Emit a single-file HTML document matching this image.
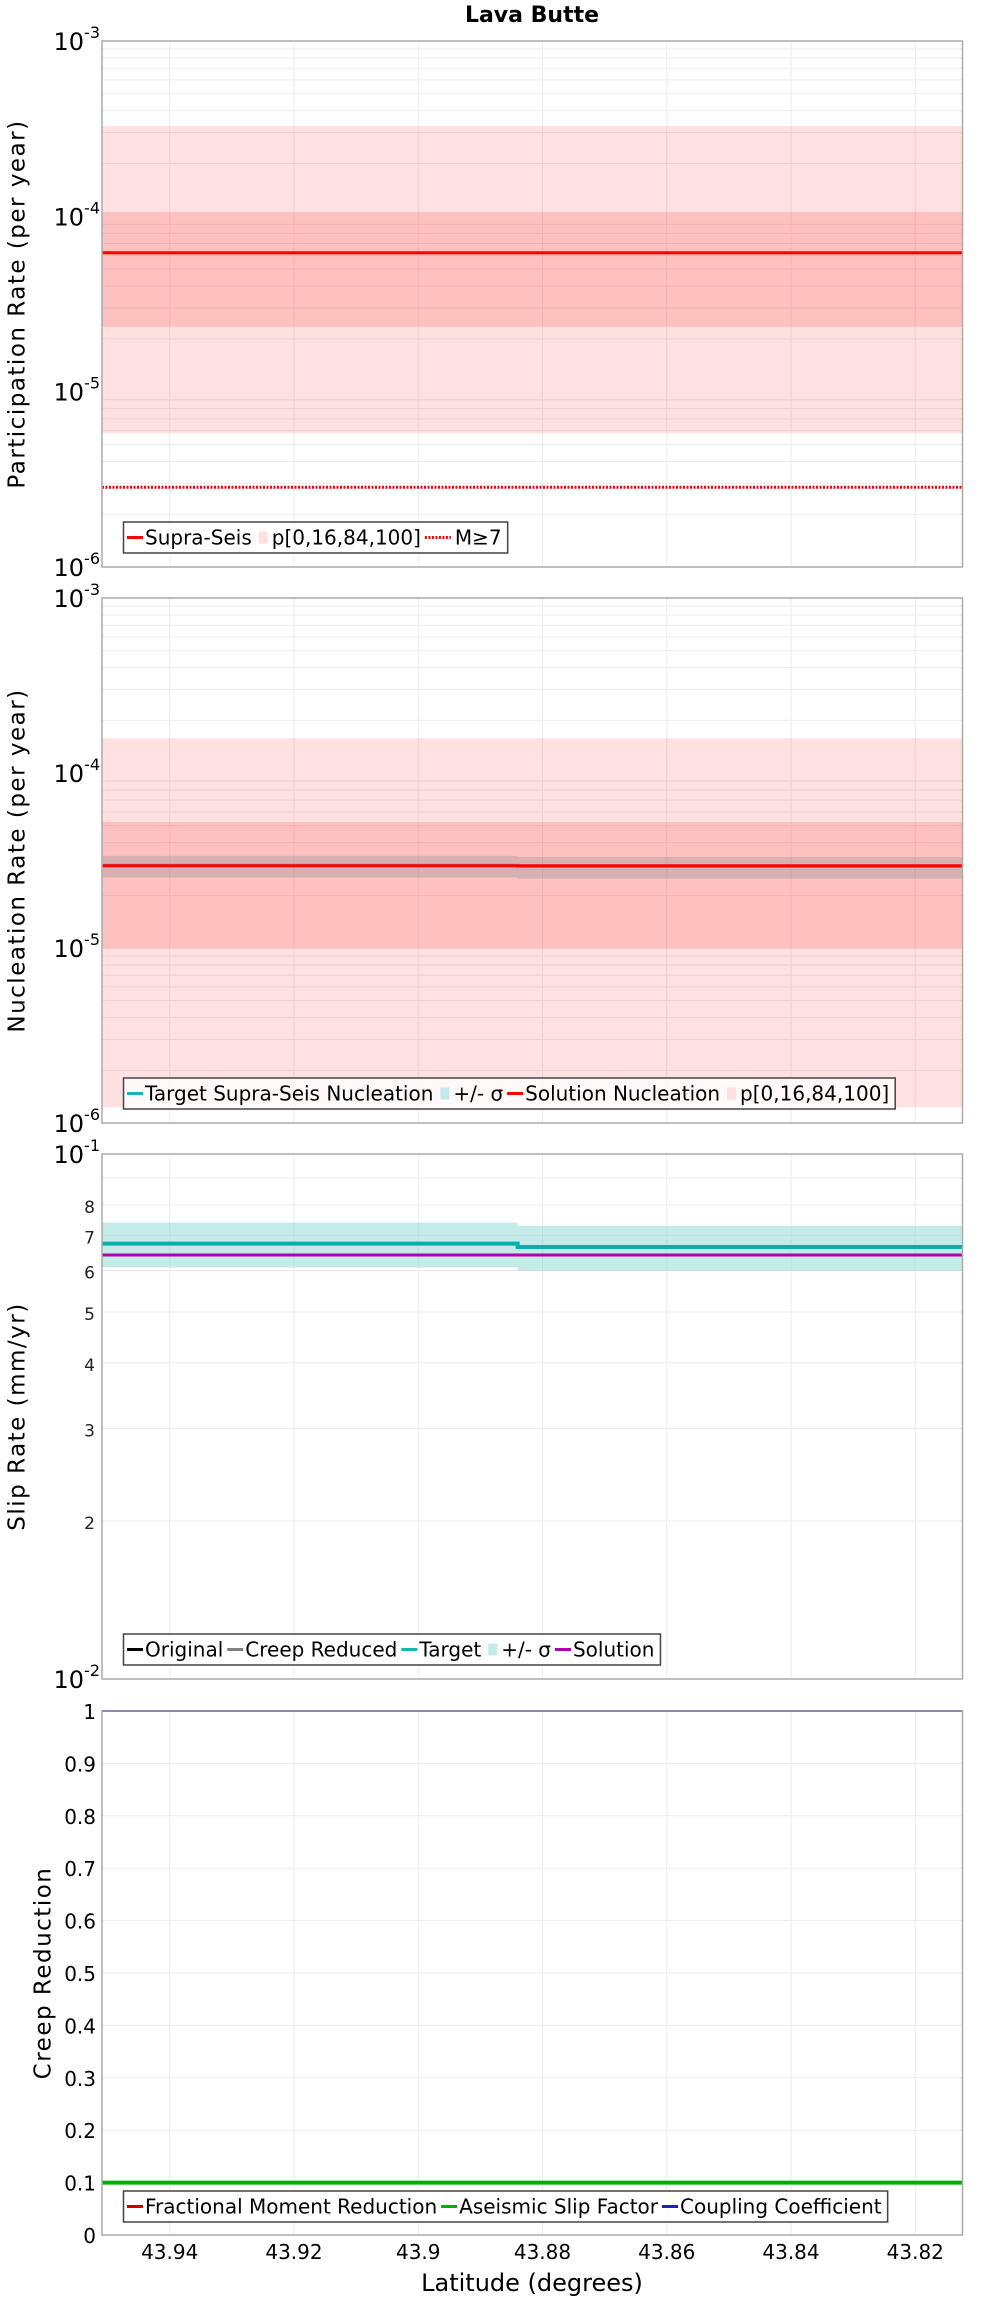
<!DOCTYPE html>
<html><head><meta charset="utf-8"><title>Lava Butte</title>
<style>
html,body{margin:0;padding:0;background:#fff;}
svg{display:block;font-family:"DejaVu Sans","Liberation Sans",sans-serif;}
</style></head>
<body>
<svg id="chart" xmlns="http://www.w3.org/2000/svg" width="1000" height="2300" viewBox="0 0 1000 2300">
<text x="532" y="22" text-anchor="middle" font-weight="bold" font-size="22">Lava Butte</text>
<g id="layer"></g>
</svg>
<script>
// ---- shared x data (latitude) ----
const latRange = [43.9509, 43.8124];
const segStart = [43.9509, 43.884];
const segEnd = [43.884, 43.8124];
const xTicks = [43.94, 43.92, 43.9, 43.88, 43.86, 43.84, 43.82];
const xTickLabels = ["43.94", "43.92", "43.9", "43.88", "43.86", "43.84", "43.82"];

// ---- panel 1: participation ----
const partSupra = [6.2e-5, 6.2e-5];
const partP0 = [5.8e-6, 5.8e-6];
const partP16 = [2.34e-5, 2.34e-5];
const partP84 = [1.06e-4, 1.06e-4];
const partP100 = [3.27e-4, 3.27e-4];
const partM7 = [2.85e-6, 2.85e-6];

// ---- panel 2: nucleation ----
const nucTarget = [2.97e-5, 2.92e-5];
const nucSigLo = [2.53e-5, 2.49e-5];
const nucSigHi = [3.36e-5, 3.31e-5];
const nucSolution = [2.95e-5, 2.95e-5];
const nucP0 = [1.23e-6, 1.23e-6];
const nucP16 = [9.9e-6, 9.9e-6];
const nucP84 = [5.25e-5, 5.25e-5];
const nucP100 = [1.58e-4, 1.58e-4];

// ---- panel 3: slip rate ----
const slipTarget = [0.0675, 0.0665];
const slipSigLo = [0.0608, 0.0599];
const slipSigHi = [0.0740, 0.0730];
const slipSolution = [0.0642, 0.0642];
const slipMinorLabels = ["2", "3", "4", "5", "6", "7", "8"];

// ---- panel 4: creep ----
const creepFMR = [0.1, 0.1];
const creepASF = [0.1, 0.1];
const creepCC = [1.0, 1.0];
const creepTicks = [0, 0.1, 0.2, 0.3, 0.4, 0.5, 0.6, 0.7, 0.8, 0.9, 1];

const NS = "http://www.w3.org/2000/svg";
const layer = document.getElementById("layer");
const L = 102, R = 962.5;
function mk(tag, attrs, parent) {
  const e = document.createElementNS(NS, tag);
  for (const k in attrs) e.setAttribute(k, attrs[k]);
  (parent || layer).appendChild(e);
  return e;
}
function xs(lat) { return L + (lat - latRange[0]) / (latRange[1] - latRange[0]) * (R - L); }
function logScale(top, bot, lo, hi) {
  return v => bot - (Math.log10(v) - Math.log10(lo)) / (Math.log10(hi) - Math.log10(lo)) * (bot - top);
}
function linScale(top, bot, lo, hi) { return v => bot - (v - lo) / (hi - lo) * (bot - top); }

function frame(top, bot, name) {
  const g = mk("g", {});
  
  
  xTicks.forEach(t => {
    const l = mk("line", {x1: xs(t), x2: xs(t), y1: top, y2: bot, stroke: "#ebebeb", "stroke-width": 1}, g);
    
    
  });
  return g;
}
function hgrid(y, g) {
  const l = mk("line", {x1: L, x2: R, y1: y, y2: y, stroke: "#ebebeb", "stroke-width": 1}, g);
  
  
}
function border(top, bot, name) {
  const r = mk("rect", {x: L, y: top, width: R - L, height: bot - top, fill: "none", stroke: "#aaaaaa", "stroke-width": 1.5});
  
  
}
function band(lo, hi, ys, fill, name) {
  for (let i = 0; i < segStart.length; i++) {
    const x1 = xs(segStart[i]), x2 = xs(segEnd[i]);
    const r = mk("rect", {x: x1, y: ys(hi[i]), width: x2 - x1, height: ys(lo[i]) - ys(hi[i]), fill: fill});
    
    
  }
}
function step(vals, ys, color, w, name, dash) {
  let d = "";
  for (let i = 0; i < segStart.length; i++) {
    d += (i === 0 ? "M" : "L") + xs(segStart[i]) + "," + ys(vals[i]) + " L" + xs(segEnd[i]) + "," + ys(vals[i]) + " ";
  }
  const p = mk("path", {d: d, fill: "none", stroke: color, "stroke-width": w});
  if (dash) p.setAttribute("stroke-dasharray", dash);
  
  
}
function powLabel(y, exp, name) {
  const t = mk("text", {x: 100, y: y + 9, "text-anchor": "end", "font-size": 24, fill: "#000"});
  
  
  t.appendChild(document.createTextNode("10"));
  const s = mk("tspan", {dy: -12, "font-size": 16}, t);
  s.textContent = String(exp);
}
function yTitle(text, x, top, bot, name) {
  const cy = (top + bot) / 2;
  const t = mk("text", {x: x, y: cy, "text-anchor": "middle", "font-size": 23, "letter-spacing": "1.5", transform: "rotate(-90 " + x + " " + cy + ")", "dominant-baseline": "middle"});
  t.textContent = text;
  
  
}
function legend(y0, items, name) {
  const g = mk("g", {});
  
  
  const box = mk("rect", {x: 123.5, y: y0, width: 10, height: 31, fill: "rgba(255,255,255,0.8)", stroke: "#444", "stroke-width": 1.5}, g);
  let x = 127;
  const cy = y0 + 15.5;
  items.forEach(it => {
    if (it.type === "band") {
      const sw = mk("rect", {x: x + 3, y: cy - 6, width: 9, height: 12, fill: it.color}, g);
      
      
      x += 16;
    } else {
      const sw = mk("line", {x1: x, x2: x + (it.dash ? 26 : 16), y1: cy, y2: cy, stroke: it.color, "stroke-width": 3}, g);
      if (it.dash) sw.setAttribute("stroke-dasharray", it.dash);
      
      
      x += (it.dash ? 30 : 18);
    }
    const t = mk("text", {x: x, y: cy + 7, "font-size": 20, fill: "#000"}, g);
    t.textContent = it.label;
    
    
    x += t.getComputedTextLength() + 4;
  });
  box.setAttribute("width", x - 123.5 + 2);
}

// ===== Panel 1 =====
(function () {
  const top = 41, bot = 567;
  const ys = logScale(top, bot, 1e-6, 1e-3);
  const g = frame(top, bot, "participation");
  for (let e = -6; e < -3; e++) for (let m = 2; m <= 9; m++) hgrid(ys(m * Math.pow(10, e)), g);
  band(partP0, partP100, ys, "rgba(255,80,80,0.17)", "participation-p0-p100-band");
  band(partP16, partP84, ys, "rgba(255,60,60,0.2)", "participation-p16-p84-band");
  step(partSupra, ys, "#ff0000", 3, "supra-seis-line");
  step(partM7, ys, "#ff0000", 3, "m7-line", "2,1.5");
  border(top, bot, "participation");
  [-3, -4, -5, -6].forEach(e => powLabel(ys(Math.pow(10, e)), e, "y-tick-label"));
  yTitle("Participation Rate (per year)", 18, top, bot, "participation-y-axis-title");
  legend(522, [
    {type: "line", color: "#ff0000", label: "Supra-Seis"},
    {type: "band", color: "#fde0e0", label: "p[0,16,84,100]"},
    {type: "line", color: "#ff0000", dash: "2,1.5", label: "M≥7"}
  ], "participation-legend");
})();

// ===== Panel 2 =====
(function () {
  const top = 598, bot = 1123;
  const ys = logScale(top, bot, 1e-6, 1e-3);
  const g = frame(top, bot, "nucleation");
  for (let e = -6; e < -3; e++) for (let m = 2; m <= 9; m++) hgrid(ys(m * Math.pow(10, e)), g);
  band(nucP0, nucP100, ys, "rgba(255,80,80,0.17)", "nucleation-p0-p100-band");
  band(nucP16, nucP84, ys, "rgba(255,60,60,0.2)", "nucleation-p16-p84-band");
  band(nucSigLo, nucSigHi, ys, "rgba(140,150,150,0.35)", "nucleation-sigma-band");
  step(nucTarget, ys, "#909090", 3, "target-nucleation-line");
  step(nucSolution, ys, "#ff0000", 3, "solution-nucleation-line");
  border(top, bot, "nucleation");
  [-3, -4, -5, -6].forEach(e => powLabel(ys(Math.pow(10, e)), e, "y-tick-label"));
  yTitle("Nucleation Rate (per year)", 18, top, bot, "nucleation-y-axis-title");
  legend(1078, [
    {type: "line", color: "#10b8b0", label: "Target Supra-Seis Nucleation"},
    {type: "band", color: "#c2ebea", label: "+/- σ"},
    {type: "line", color: "#ff0000", label: "Solution Nucleation"},
    {type: "band", color: "#fde0e0", label: "p[0,16,84,100]"}
  ], "nucleation-legend");
})();

// ===== Panel 3 =====
(function () {
  const top = 1154, bot = 1679;
  const ys = logScale(top, bot, 0.01, 0.1);
  const g = frame(top, bot, "slip-rate");
  for (let m = 2; m <= 9; m++) hgrid(ys(m * 0.01), g);
  band(slipSigLo, slipSigHi, ys, "rgba(140,215,212,0.5)", "slip-sigma-band");
  step(slipTarget, ys, "#0aada8", 4, "slip-target-line");
  step(slipSolution, ys, "#b000b0", 3, "slip-solution-line");
  border(top, bot, "slip-rate");
  powLabel(top, -1, "y-tick-label");
  powLabel(bot, -2, "y-tick-label");
  slipMinorLabels.forEach(s => {
    const t = mk("text", {x: 95, y: ys(parseFloat(s) * 0.01) + 8, "text-anchor": "end", "font-size": 17, fill: "#222"});
    t.textContent = s;
    
    
  });
  yTitle("Slip Rate (mm/yr)", 18, top, bot, "slip-rate-y-axis-title");
  legend(1634, [
    {type: "line", color: "#000000", label: "Original"},
    {type: "line", color: "#808080", label: "Creep Reduced"},
    {type: "line", color: "#10b8b0", label: "Target"},
    {type: "band", color: "#c2ebea", label: "+/- σ"},
    {type: "line", color: "#b000b0", label: "Solution"}
  ], "slip-rate-legend");
})();

// ===== Panel 4 =====
(function () {
  const top = 1711, bot = 2235;
  const ys = linScale(top, bot, 0, 1);
  const g = frame(top, bot, "creep");
  creepTicks.forEach(v => hgrid(ys(v), g));
  step(creepFMR, ys, "#cc0000", 3, "fractional-moment-reduction-line");
  step(creepASF, ys, "#00b000", 4, "aseismic-slip-factor-line");
  step(creepCC, ys, "#3030b0", 2, "coupling-coefficient-line");
  border(top, bot, "creep");
  creepTicks.forEach(v => {
    const t = mk("text", {x: 96, y: ys(v) + 8, "text-anchor": "end", "font-size": 20, fill: "#000"});
    t.textContent = String(v);
    
    
  });
  yTitle("Creep Reduction", 44, top, bot, "creep-y-axis-title");
  legend(2191, [
    {type: "line", color: "#cc0000", label: "Fractional Moment Reduction"},
    {type: "line", color: "#00b000", label: "Aseismic Slip Factor"},
    {type: "line", color: "#2020c0", label: "Coupling Coefficient"}
  ], "creep-legend");
  xTicks.forEach((v, i) => {
    const t = mk("text", {x: xs(v), y: 2259, "text-anchor": "middle", "font-size": 20, fill: "#000"});
    t.textContent = xTickLabels[i];
    
    
  });
  const xt = mk("text", {x: 532, y: 2291, "text-anchor": "middle", "font-size": 24, fill: "#000"});
  xt.textContent = "Latitude (degrees)";
  
  
})();
</script>
</body></html>
